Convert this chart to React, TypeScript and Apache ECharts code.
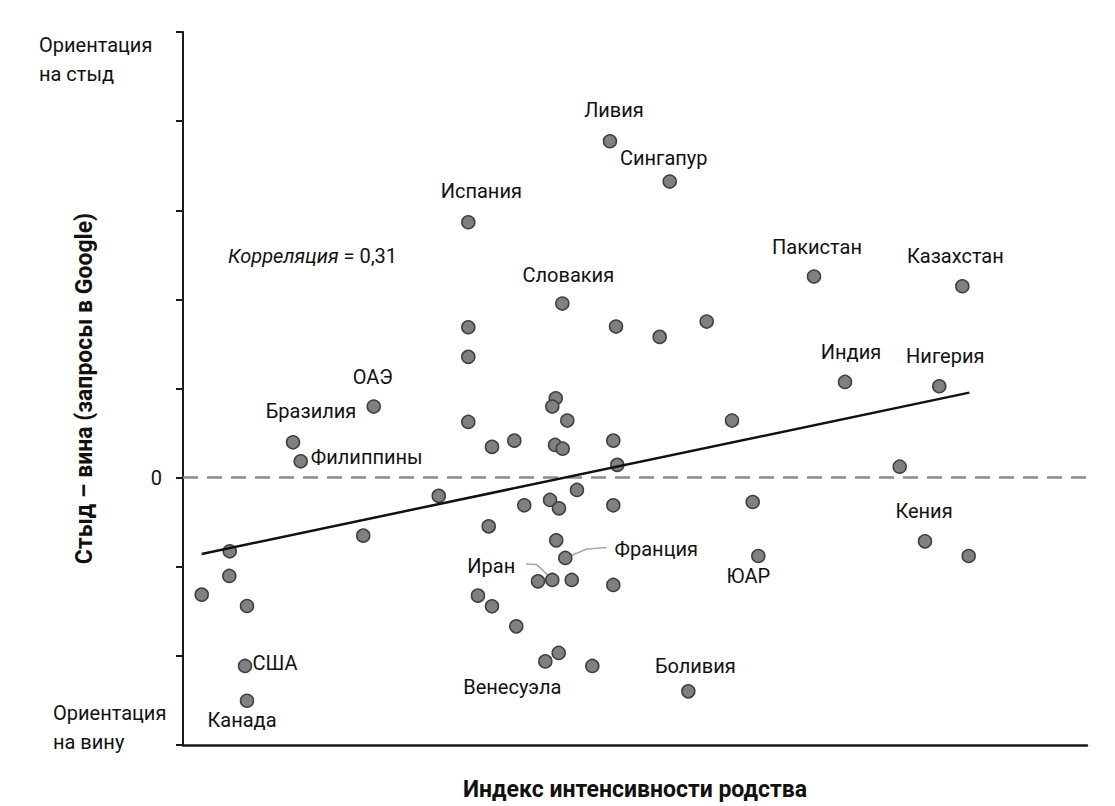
import React, { useEffect, useRef } from "react";
import * as echarts from "echarts";

// Country labels ('' = unlabeled point)
const countries = [
  "Ливия", "Сингапур", "Испания", "Словакия", "", "", "", "", "",
  "Пакистан", "Казахстан", "Индия", "Нигерия", "", "", "Кения", "", "ЮАР",
  "", "", "", "", "", "", "", "", "", "", "", "", "", "", "", "", "", "", "",
  "Франция", "Иран", "", "", "", "", "", "", "", "Венесуэла", "", "Боливия",
  "ОАЭ", "Бразилия", "Филиппины", "", "", "", "", "", "США", "Канада",
];
// Kinship intensity index (x)
const kinshipIndex = [
  4.723, 5.384, 3.156, 4.196, 3.156, 4.79, 5.273, 5.793, 3.156,
  6.98, 8.621, 7.323, 8.366, 7.928, 6.302, 8.208, 8.691, 6.364,
  4.123, 4.085, 3.156, 4.251, 6.073, 3.418, 3.665, 4.115, 4.2, 4.76, 4.804, 2.829, 4.358, 3.775, 4.06, 4.159, 4.76, 3.382, 4.129,
  4.229, 4.085, 3.927, 4.3, 4.76, 3.263, 3.418, 3.687, 4.156, 4.008, 4.528, 5.59,
  2.11, 1.217, 1.302, 1.994, 0.517, 0.512, 0.207, 0.708, 0.686, 0.708,
];
// Shame minus guilt (Google searches) (y)
const shameMinusGuilt = [
  3.774, 3.322, 2.865, 1.953, 1.687, 1.695, 1.579, 1.751, 1.355,
  2.256, 2.147, 1.074, 1.025, 0.123, -0.273, -0.715, -0.879, -0.879,
  0.89, 0.797, 0.625, 0.64, 0.64, 0.345, 0.415, 0.367, 0.325, 0.415, 0.143, -0.205, -0.138, -0.311, -0.25, -0.345, -0.311, -0.547, -0.704,
  -0.901, -1.148, -1.164, -1.148, -1.204, -1.324, -1.444, -1.669, -1.967, -2.062, -2.113, -2.398,
  0.797, 0.396, 0.183, -0.651, -0.827, -1.103, -1.313, -1.44, -2.113, -2.503,
];
// Regression line end points
const trendX = [0.207, 8.698];
const trendY = [-0.856, 0.954];
// Leader lines (data coords)
const franceLeaderX = [4.244, 4.466, 4.687];
const franceLeaderY = [-0.896, -0.801, -0.783];
const iranLeaderX = [3.794, 3.913, 4.079];
const iranLeaderY = [-0.969, -0.976, -1.136];

// label offsets (px) relative to the dot centre
const labelOffset: Record<string, [number, number]> = {
  "Ливия": [4, -31],
  "Сингапур": [-6, -24],
  "Испания": [13, -31],
  "Словакия": [6, -29],
  "Пакистан": [3, -30],
  "Казахстан": [-7, -30],
  "Индия": [6, -30],
  "Нигерия": [6, -30],
  "Кения": [-1, -30],
  "ЮАР": [-10, 20],
  "Боливия": [7, -25],
  "Венесуэла": [-33, 26],
  "Франция": [91, -9],
  "Иран": [-61, -14],
  "ОАЭ": [-1, -30],
  "Бразилия": [18, -31],
  "Филиппины": [66, -4],
  "США": [30, -3],
  "Канада": [-5, 19],
};

const FONT = "Roboto, 'Liberation Sans', sans-serif";

export default function App() {
  const ref = useRef<HTMLDivElement>(null);
  useEffect(() => {
    if (!ref.current) return;
    const chart = echarts.init(ref.current, undefined, { renderer: "svg" });
    const points = kinshipIndex.map((x, i) => {
      const name = countries[i];
      const item: any = { value: [x, shameMinusGuilt[i]], name };
      if (name) {
        const off = labelOffset[name] || [0, -28];
        item.label = {
          show: true,
          position: "inside",
          offset: off,
          formatter: name,
          align: "center",
          verticalAlign: "middle",
          fontFamily: FONT,
          fontSize: 20,
          color: "#111",
        };
      }
      return item;
    });
    const option: any = {
      animation: false,
      backgroundColor: "#fff",
      grid: { left: 183, right: 28, top: 32, bottom: 61 },
      xAxis: {
        type: "value",
        min: 0,
        max: 10,
        axisLine: { show: true, onZero: false, lineStyle: { color: "#1a1a1a", width: 2.5 } },
        axisTick: { show: false },
        axisLabel: { show: false },
        splitLine: { show: false },
        name: "Индекс интенсивности родства",
        nameLocation: "middle",
        nameGap: 33,
        nameTextStyle: { fontFamily: FONT, fontWeight: "bold", fontSize: 23, color: "#111" },
      },
      yAxis: {
        type: "value",
        min: -3,
        max: 5,
        interval: 1,
        axisLine: { show: true, onZero: false, lineStyle: { color: "#1a1a1a", width: 2 } },
        axisTick: { show: true, inside: false, length: 7, lineStyle: { color: "#1a1a1a", width: 2 } },
        axisLabel: {
          margin: 21,
          fontFamily: FONT,
          fontSize: 20,
          color: "#111",
          formatter: (v: number) => (v === 0 ? "0" : ""),
        },
        splitLine: { show: false },
        name: "Стыд – вина (запросы в Google)",
        nameLocation: "middle",
        nameGap: 87,
        nameRotate: 90,
        nameTextStyle: { fontFamily: FONT, fontWeight: "bold", fontSize: 23, color: "#111" },
      },
      graphic: [
        {
          type: "text",
          left: 39,
          top: 30,
          style: {
            text: "Ориентация\nна стыд",
            fontFamily: FONT,
            fontSize: 20,
            lineHeight: 29,
            fill: "#111",
          },
        },
        {
          type: "text",
          left: 53,
          top: 698,
          style: {
            text: "Ориентация\nна вину",
            fontFamily: FONT,
            fontSize: 20,
            lineHeight: 29,
            fill: "#111",
          },
        },
        {
          type: "text",
          left: 228,
          top: 246,
          style: {
            text: "{i|Корреляция} = 0,31",
            fontFamily: FONT,
            fontSize: 20,
            fill: "#111",
            rich: {
              i: { fontStyle: "italic", fontFamily: FONT, fontSize: 20, fill: "#111" },
            },
          },
        },
      ],
      series: [
        {
          type: "line",
          data: franceLeaderX.map((x, i) => [x, franceLeaderY[i]]),
          symbol: "none",
          lineStyle: { color: "#a8a8a8", width: 1.5 },
          z: 3,
          silent: true,
        },
        {
          type: "line",
          data: iranLeaderX.map((x, i) => [x, iranLeaderY[i]]),
          symbol: "none",
          lineStyle: { color: "#a8a8a8", width: 1.5 },
          z: 3,
          silent: true,
        },
        {
          type: "scatter",
          data: points,
          symbol: "circle",
          symbolSize: 13,
          itemStyle: { color: "#808080", borderColor: "#3f3f3f", borderWidth: 1.5, opacity: 1 },
          z: 4,
          markLine: {
            silent: true,
            symbol: ["none", "none"],
            label: { show: false },
            lineStyle: { type: [15, 9], color: "#8c8c8c", width: 2.5 },
            data: [{ yAxis: 0 }],
          },
        },
        {
          type: "line",
          data: trendX.map((x, i) => [x, trendY[i]]),
          symbol: "none",
          lineStyle: { color: "#111", width: 2.5 },
          z: 5,
          silent: true,
        },
      ],
    };
    chart.setOption(option);
    return () => chart.dispose();
  }, []);
  return (
    <div
      ref={ref}
      style={{ position: "fixed", left: 0, top: 0, width: 1115, height: 806, background: "#fff" }}
    />
  );
}
